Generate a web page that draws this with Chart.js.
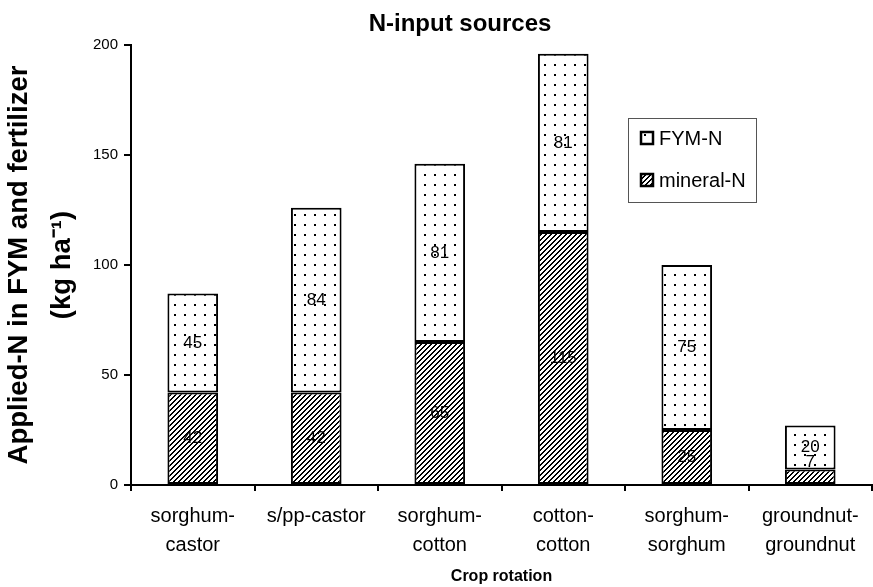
<!DOCTYPE html>
<html><head><meta charset="utf-8">
<script src="https://cdn.jsdelivr.net/npm/chart.js@4.4.0/dist/chart.umd.min.js"></script>
<style>html,body{margin:0;padding:0;background:#fff;}</style>
</head><body>
<canvas id="c" width="873" height="587"></canvas>
<script>
const categories = [["sorghum-","castor"],["s/pp-castor"],["sorghum-","cotton"],["cotton-","cotton"],["sorghum-","sorghum"],["groundnut-","groundnut"]];
const mineralN = [42, 42, 65, 115, 25, 7];
const fymN = [45, 84, 81, 81, 75, 20];
const yTicks = [0, 50, 100, 150, 200];
const seriesNames = ["mineral-N", "FYM-N"];
const chartTitle = "N-input sources";
const yTitle = ["Applied-N in FYM and fertilizer", "(kg ha\u207B\u00B9)"];
const xTitle = "Crop rotation";

const FONT = "'Liberation Sans', Arial, Helvetica, sans-serif";

function makeHatch() {
  const s = 5, c = document.createElement('canvas'); c.width = s; c.height = s;
  const g = c.getContext('2d'); g.fillStyle = '#fff'; g.fillRect(0,0,s,s); g.fillStyle = '#000';
  for (let y = 0; y < s; y++) { g.fillRect((s - 1 - y + s) % s, y, 1, 1); g.fillRect((s - y + s) % s, y, 1, 1); }
  return document.getElementById('c').getContext('2d').createPattern(c, 'repeat');
}
function makeDots() {
  const s = 10, c = document.createElement('canvas'); c.width = s; c.height = s;
  const g = c.getContext('2d'); g.fillStyle = '#fff'; g.fillRect(0,0,s,s); g.fillStyle = '#000';
  g.fillRect(4, 4, 2, 2);
  return document.getElementById('c').getContext('2d').createPattern(c, 'repeat');
}
const hatch = makeHatch();
const dots = makeDots();

const labelPlugin = {
  id: 'segLabels',
  afterDatasetsDraw(chart) {
    const ctx = chart.ctx;
    ctx.save();
    ctx.font = "17px " + FONT;
    ctx.fillStyle = '#000';
    ctx.textAlign = 'center';
    ctx.textBaseline = 'middle';
    chart.data.datasets.forEach((ds, di) => {
      chart.getDatasetMeta(di).data.forEach((el, i) => {
        const cy = Math.min((el.y + el.base) / 2, el.base - 22);
        ctx.fillText(String(ds.data[i]), el.x, cy);
      });
    });
    ctx.restore();
  }
};

const extrasPlugin = {
  id: 'extras',
  afterDraw(chart) {
    const ctx = chart.ctx;
    ctx.save();
    ctx.font = "bold 24px " + FONT;
    ctx.fillStyle = '#000';
    ctx.textAlign = 'center';
    ctx.textBaseline = 'middle';
    ctx.fillText(chartTitle, 460, 24);
    const bx = 628, by = 118, bw = 128, bh = 84;
    ctx.fillStyle = '#fff';
    ctx.fillRect(bx, by, bw, bh);
    ctx.strokeStyle = '#555';
    ctx.lineWidth = 1;
    ctx.strokeRect(bx + 0.5, by + 0.5, bw, bh);
    const order = [1, 0];
    const ys = [138, 180];
    ctx.font = "20px " + FONT;
    ctx.textAlign = 'left';
    order.forEach((di, k) => {
      const ds = chart.data.datasets[di];
      const y = ys[k];
      ctx.fillStyle = ds.backgroundColor;
      ctx.fillRect(641, y - 6, 12, 12);
      ctx.strokeStyle = '#000';
      ctx.lineWidth = 2.5;
      ctx.strokeRect(641, y - 6, 12, 12);
      ctx.fillStyle = '#000';
      ctx.fillText(ds.label, 659, y + 1);
    });
    ctx.restore();
  }
};

new Chart(document.getElementById('c'), {
  type: 'bar',
  data: {
    labels: categories,
    datasets: [
      { label: seriesNames[0], data: mineralN, backgroundColor: hatch, borderColor: '#000', borderWidth: 2, borderSkipped: false },
      { label: seriesNames[1], data: fymN, backgroundColor: dots, borderColor: '#000', borderWidth: 2, borderSkipped: false }
    ]
  },
  options: {
    responsive: false,
    animation: false,
    devicePixelRatio: 1,
    categoryPercentage: 1,
    barPercentage: 0.41,
    layout: { padding: { top: 45, right: 1, left: 0, bottom: 0 } },
    plugins: { legend: { display: false }, title: { display: false }, tooltip: { enabled: false } },
    scales: {
      x: {
        stacked: true,
        grid: { display: true, drawOnChartArea: false, color: '#000', lineWidth: 2, tickLength: 6, offset: true },
        border: { display: true, color: '#000', width: 2 },
        ticks: { color: '#000', font: { family: FONT, size: 20, lineHeight: 1.45 }, padding: 11, maxRotation: 0, autoSkip: false },
        title: { display: true, text: xTitle, color: '#000', font: { family: FONT, size: 16, weight: 'bold', lineHeight: 1.25 }, padding: 0 },
        afterFit(s) { s.height = 102; }
      },
      y: {
        stacked: true,
        min: 0, max: 200,
        afterBuildTicks(s) { s.ticks = yTicks.map(v => ({ value: v })); },
        grid: { display: true, drawOnChartArea: false, color: '#000', lineWidth: 2, tickLength: 7 },
        border: { display: true, color: '#000', width: 2 },
        ticks: { color: '#000', font: { family: FONT, size: 15 }, padding: 6 },
        title: { display: true, text: yTitle, color: '#000', font: { family: FONT, size: 27.5, weight: 'bold', lineHeight: 1.56 }, padding: { top: -2, bottom: 0 } },
        afterFit(s) { s.width = 131; }
      }
    }
  },
  plugins: [labelPlugin, extrasPlugin]
});
</script>
</body></html>
